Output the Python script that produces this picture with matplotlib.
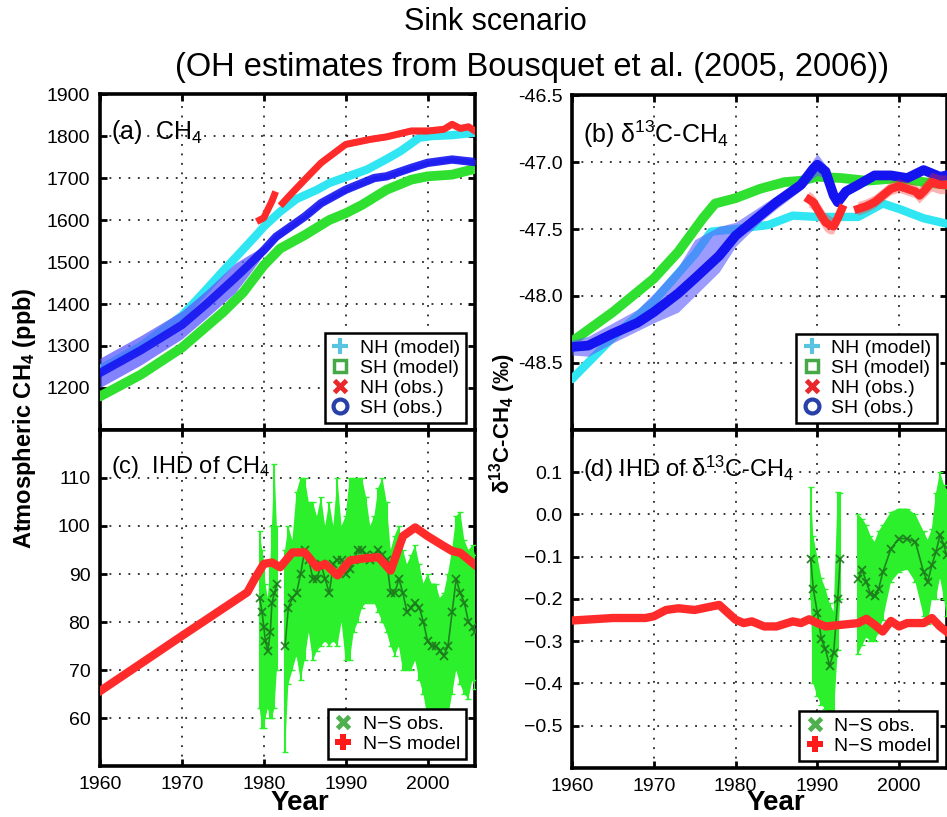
import numpy as np
import matplotlib
matplotlib.use('Agg')
import matplotlib.pyplot as plt
from matplotlib.lines import Line2D

plt.rcParams['font.family'] = ['Liberation Sans', 'DejaVu Sans']
plt.rcParams['mathtext.fontset'] = 'custom'
plt.rcParams['mathtext.rm'] = 'Liberation Sans'
plt.rcParams['mathtext.bf'] = 'Liberation Sans:bold'
plt.rcParams['mathtext.default'] = 'regular'

nan = np.nan

# ---------------- Panel (a): CH4 (ppb) ----------------
a_nhm_year = [1960, 1965, 1970, 1973, 1975, 1977, 1979, 1980, 1982, 1984, 1986.5, 1988, 1990,
              1992.6, 1995, 1996.7, 1999, 2000.6, 2003, 2005.8]
a_nhm_val = [1245, 1300, 1372, 1435, 1478, 1520, 1562, 1584, 1620, 1650, 1672, 1688, 1702,
             1720, 1745, 1764, 1796, 1800, 1802, 1808]

a_shm_year = [1960, 1965, 1970, 1975, 1977.5, 1980, 1982, 1985, 1988, 1990, 1992, 1995, 1998,
              2000, 2003, 2005.8]
a_shm_val = [1180, 1232, 1296, 1380, 1428, 1492, 1532, 1564, 1600, 1616, 1636, 1672, 1696,
             1704, 1708, 1722]

a_nho_year = [1979.5, 1980, 1980.5, 1981, 1981.3, 1981.8, 1982.3, 1983, 1985, 1987, 1990, 1993,
              1995, 1998, 2000, 2002, 2003, 2004, 2005, 2005.8]
a_nho_val = [1600, 1605, 1625, 1645, 1660, nan, 1640, 1655, 1696, 1736, 1780, 1792,
             1798, 1812, 1812, 1816, 1828, 1818, 1822, 1812]

a_sho_year = [1960, 1965, 1970, 1973, 1976.5, 1978, 1980, 1981.5, 1985, 1987, 1990, 1992,
              1993.5, 1995, 1998, 2000, 2003, 2005.8]
a_sho_val = [1236, 1290, 1350, 1400, 1462, 1490, 1528, 1560, 1608, 1640, 1672, 1688,
             1700, 1704, 1724, 1736, 1744, 1738]
a_sho_err = [35, 35, 33, 33, 35, 25, 10, 8, 6, 6, 6, 6, 6, 6, 6, 6, 6, 6]

# ---------------- Panel (b): d13C-CH4 (permil) ----------------
b_nhm_year = [1960, 1965, 1970, 1975, 1977, 1980, 1984, 1987, 1990, 1995, 1998, 2000, 2003, 2005.8]
b_nhm_val = [-48.62, -48.31, -48.04, -47.69, -47.52, -47.50, -47.47, -47.40, -47.41, -47.41,
             -47.31, -47.35, -47.42, -47.46]

b_shm_year = [1960, 1965, 1970, 1973, 1976, 1977.5, 1980, 1983, 1986, 1988, 1990, 1993, 1996,
              2000, 2003, 2005.8]
b_shm_val = [-48.34, -48.12, -47.87, -47.67, -47.42, -47.31, -47.27, -47.20, -47.15, -47.14,
             -47.11, -47.12, -47.14, -47.12, -47.15, -47.17]

b_nho_year = [1989, 1989.5, 1990, 1990.5, 1991, 1991.5, 1992, 1992.5, 1993, 1994, 1995, 1996,
              1997, 1998, 1999, 2000, 2001, 2002, 2002.5, 2003, 2004, 2005, 2005.8]
b_nho_val = [-47.28, -47.30, -47.35, -47.40, -47.45, -47.47, -47.48, -47.42, -47.35, nan,
             -47.35, -47.33, -47.30, -47.25, -47.20, -47.18, -47.20, -47.22, -47.25, -47.22,
             -47.15, -47.17, -47.17]
b_nho_err = [0.06, 0.06, 0.07, 0.07, 0.07, 0.07, 0.06, 0.06, 0.05, nan,
             0.05, 0.05, 0.05, 0.05, 0.05, 0.05, 0.05, 0.05, 0.06, 0.06, 0.07, 0.07, 0.07]

b_sho_year = [1960, 1962, 1965, 1968, 1970, 1973, 1975, 1978, 1980, 1983, 1985, 1988, 1989.5,
              1990, 1991, 1992, 1992.5, 1993.5, 1995, 1997, 1999, 2001, 2003, 2005, 2005.8]
b_sho_val = [-48.38, -48.37, -48.28, -48.20, -48.12, -47.98, -47.87, -47.70, -47.55, -47.40,
             -47.30, -47.17, -47.05, -47.02, -47.07, -47.25, -47.30, -47.22, -47.17, -47.10,
             -47.10, -47.12, -47.06, -47.11, -47.10]
b_sho_hi = [-48.33, -48.30, -48.20, -48.10, -47.98, -47.78, -47.58, -47.48, -47.45, -47.33,
            -47.25, -47.13, -46.98, -46.94, -47.02, -47.22, -47.27, -47.19, -47.14, -47.07,
            -47.07, -47.09, -47.03, -47.08, -47.07]
b_sho_lo = [-48.44, -48.45, -48.35, -48.26, -48.20, -48.12, -48.00, -47.82, -47.63, -47.45,
            -47.35, -47.21, -47.12, -47.10, -47.12, -47.28, -47.33, -47.25, -47.20, -47.13,
            -47.13, -47.15, -47.09, -47.14, -47.13]

# ---------------- Panel (c): IHD of CH4 (ppb) ----------------
c_mod_year = [1960, 1970, 1978, 1979, 1980, 1981, 1982, 1983.5, 1985, 1986.5, 1987.5, 1989,
              1990.5, 1992, 1994, 1995.5, 1997, 1998.5, 2000, 2002, 2003, 2004, 2005.8]
c_mod_val = [65.6, 77.1, 86.2, 89.3, 92.1, 92.4, 91.4, 94.5, 94.5, 91.4, 92.1, 89.7,
             92.8, 93.2, 93.5, 90.7, 97.9, 99.7, 97.9, 95.8, 94.8, 94.4, 91.9]

c_obs_year = [1979.5, 1979.8, 1980, 1980.2, 1980.5, 1980.8, 1981, 1981.3, 1981.6, 1982.0,
              1982.6, 1983, 1983.5, 1984, 1984.5, 1985, 1985.5, 1986, 1986.5, 1987, 1987.5,
              1988, 1988.5, 1989, 1989.5, 1990, 1990.5, 1991, 1991.5, 1992, 1992.5, 1993,
              1993.5, 1994, 1994.5, 1995, 1995.5, 1996, 1996.5, 1997, 1997.5, 1998, 1998.5,
              1999, 1999.5, 2000, 2000.5, 2001, 2001.5, 2002, 2002.5, 2003, 2003.5, 2004,
              2004.5, 2005, 2005.5, 2005.8]
c_obs_val = [85, 82, 79, 76, 74, 78, 84, 86, 88, nan,
             75, 83, 85, 86, 90, 95, 93, 89, 89, 92, 89,
             86, 92, 93, 93, 90, 91, 93, 95, 95, 94, 93,
             94, 95, 94, 93, 86, 86, 89, 86, 82, 83, 84,
             83, 80, 76, 75, 75, 74, 73, 75, 82, 89, 86,
             84, 80, 79, 78]
c_obs_hi = [99, 95, 93, 88, 85, 92, 100, 113, 100, nan,
            95, 100, 97, 107, 110, 110, 105, 105, 102, 106, 100,
            105, 100, 110, 100, 102, 110, 110, 110, 110, 106, 100,
            102, 108, 110, 105, 95, 98, 100, 95, 92, 94, 96,
            92, 88, 90, 88, 88, 85, 86, 90, 95, 102, 103,
            97, 95, 96, 94]
c_obs_lo = [62, 58, 58, 60, 62, 60, 60, 62, 70, nan,
            53, 67, 70, 73, 68, 72, 78, 72, 74, 75, 76,
            75, 76, 75, 80, 72, 72, 78, 80, 83, 84, 84,
            84, 82, 80, 78, 75, 73, 75, 70, 70, 70, 72,
            68, 65, 60, 60, 58, 57, 57, 60, 65, 70, 67,
            65, 64, 68, 66]

# ---------------- Panel (d): IHD of d13C-CH4 (permil) ----------------
d_mod_year = [1960, 1965, 1969, 1970, 1971.5, 1973, 1975, 1977, 1978, 1980, 1981, 1982, 1983.5,
              1985, 1987, 1988, 1989, 1990, 1991, 1993, 1995, 1996, 1997, 1998, 1999, 2000,
              2001, 2003, 2004, 2005, 2005.8]
d_mod_val = [-0.251, -0.245, -0.245, -0.241, -0.226, -0.222, -0.226, -0.218, -0.214, -0.249,
             -0.257, -0.253, -0.265, -0.265, -0.253, -0.257, -0.248, -0.257, -0.265, -0.261,
             -0.257, -0.247, -0.261, -0.277, -0.252, -0.265, -0.257, -0.257, -0.245, -0.265,
             -0.277]

d_obs_year = [1989.2, 1989.5, 1990, 1990.5, 1991, 1991.5, 1992, 1992.5, 1992.8, 1994,
              1995, 1995.5, 1996, 1996.5, 1997, 1997.5, 1998, 1999, 2000, 2001, 2002, 2003,
              2003.5, 2004, 2004.5, 2005, 2005.5, 2005.8]
d_obs_val = [-0.105, -0.176, -0.232, -0.295, -0.319, -0.358, -0.327, -0.200, -0.105, nan,
             -0.152, -0.132, -0.160, -0.188, -0.192, -0.176, -0.137, -0.081, -0.057, -0.057,
             -0.065, -0.137, -0.160, -0.120, -0.089, -0.049, -0.073, -0.097]
d_obs_hi = [0.066, -0.05, -0.10, -0.15, -0.176, -0.21, -0.23, 0.054, 0.05, nan,
            0.0, -0.01, -0.025, -0.05, -0.065, -0.04, -0.025, 0.006, 0.014, 0.014,
            0.0, -0.04, -0.06, -0.035, 0.05, 0.10, 0.07, 0.06]
d_obs_lo = [-0.20, -0.40, -0.43, -0.45, -0.46, -0.51, -0.48, -0.32, -0.20, nan,
            -0.33, -0.31, -0.29, -0.30, -0.30, -0.28, -0.25, -0.16, -0.137, -0.13,
            -0.16, -0.24, -0.26, -0.20, -0.20, -0.15, -0.20, -0.24]

XLIM = (1960, 2005.8)
xticks = [1960, 1970, 1980, 1990, 2000]

C_CYAN = '#30e6f2'
C_GREEN = '#30e030'
C_RED = '#ff2a2a'
C_BLUE = '#1414f0'
C_BAND = '#5a5aff'
C_OBSG = '#2cf02c'
C_OBSX = '#1d7a1d'

fig = plt.figure(figsize=(9.47, 8.17), dpi=100)
ax_a = fig.add_axes([0.1056, 0.4737, 0.3960, 0.4112])
ax_c = fig.add_axes([0.1056, 0.0624, 0.3960, 0.4113])
ax_b = fig.add_axes([0.6040, 0.4737, 0.3955, 0.4100])
ax_d = fig.add_axes([0.6040, 0.0600, 0.3955, 0.4137])


def style(ax, bottom_labels):
    ax.set_xlim(*XLIM)
    ax.set_xticks(xticks)
    ax.grid(True, linestyle=(0, (1.2, 5)), color='k', linewidth=1.1)
    ax.tick_params(direction='in', length=5, width=2, top=True, right=True,
                   labelsize=14, pad=7, labelbottom=bottom_labels)
    for s in ax.spines.values():
        s.set_linewidth(2.6)
    ax.set_axisbelow(True)


# ---- (a)
ax = ax_a
ax.plot(a_shm_year, a_shm_val, color=C_GREEN, lw=7, solid_capstyle='round', zorder=3)
ax.plot(a_nhm_year, a_nhm_val, color=C_CYAN, lw=6, solid_capstyle='round', zorder=3)
a_nho = np.array(a_nho_val)
ax.fill_between(a_nho_year, a_nho - 8, a_nho + 8, color=C_RED, alpha=0.45, lw=0, zorder=3)
ax.plot(a_nho_year, a_nho_val, color=C_RED, lw=5, zorder=4)
a_sho = np.array(a_sho_val)
a_err = np.array(a_sho_err)
ax.fill_between(a_sho_year, a_sho - a_err, a_sho + a_err, color=C_BAND, alpha=0.75, lw=0, zorder=5)
ax.plot(a_sho_year, a_sho_val, color=C_BLUE, lw=6, alpha=0.9, zorder=6)
ax.set_ylim(1100, 1900)
ax.set_yticks([1200, 1300, 1400, 1500, 1600, 1700, 1800, 1900])
style(ax, False)
ax.text(0.03, 0.93, '(a)  CH$_4$', transform=ax.transAxes, fontsize=18, va='top', ha='left')

# ---- (b)
ax = ax_b
ax.plot(b_shm_year, b_shm_val, color=C_GREEN, lw=7, solid_capstyle='round', zorder=3)
ax.plot(b_nhm_year, b_nhm_val, color=C_CYAN, lw=6, solid_capstyle='round', zorder=3)
ax.fill_between(b_sho_year, b_sho_lo, b_sho_hi, color=C_BAND, alpha=0.6, lw=0, zorder=4)
ax.plot(b_sho_year, b_sho_val, color=C_BLUE, lw=7, zorder=5)
b_nho = np.array(b_nho_val)
b_ne = np.array(b_nho_err)
ax.fill_between(b_nho_year, b_nho - b_ne, b_nho + b_ne, color=C_RED, alpha=0.35, lw=0, zorder=6)
ax.plot(b_nho_year, b_nho_val, color=C_RED, lw=6, zorder=7)
ax.set_ylim(-49.0, -46.5)
bt = [-48.5, -48.0, -47.5, -47.0, -46.5]
ax.set_yticks(bt)
ax.set_yticklabels(['%.1f' % v for v in bt])
style(ax, False)
ax.text(0.03, 0.93, '(b) δ$^{13}$C-CH$_4$', transform=ax.transAxes, fontsize=18, va='top', ha='left')

# ---- (c)
ax = ax_c
c_v = np.array(c_obs_val)
c_h = np.array(c_obs_hi)
c_l = np.array(c_obs_lo)
ax.fill_between(c_obs_year, c_l, c_h, color=C_OBSG, lw=0, zorder=3)
ax.errorbar(c_obs_year, c_v, yerr=[c_v - c_l, c_h - c_v], fmt='none', ecolor=C_OBSG,
            elinewidth=1.5, capsize=2, zorder=3)
ax.plot(c_obs_year, c_obs_val, '-x', color=C_OBSX, lw=1.2, ms=6, mew=1.3, alpha=0.9, zorder=4)
ax.plot(c_mod_year, c_mod_val, color=C_RED, lw=6, zorder=5)
ax.set_ylim(50, 120)
ax.set_yticks([60, 70, 80, 90, 100, 110])
style(ax, True)
ax.text(0.03, 0.93, '(c)  IHD of CH$_4$', transform=ax.transAxes, fontsize=17, va='top', ha='left')

# ---- (d)
ax = ax_d
d_v = np.array(d_obs_val)
d_h = np.array(d_obs_hi)
d_l = np.array(d_obs_lo)
ax.fill_between(d_obs_year, d_l, d_h, color=C_OBSG, lw=0, zorder=3)
ax.errorbar(d_obs_year, d_v, yerr=[d_v - d_l, d_h - d_v], fmt='none', ecolor=C_OBSG,
            elinewidth=1.5, capsize=2, zorder=3)
ax.plot(d_obs_year, d_obs_val, '-x', color=C_OBSX, lw=1.2, ms=6, mew=1.3, alpha=0.9, zorder=4)
ax.plot(d_mod_year, d_mod_val, color=C_RED, lw=6, zorder=5)
ax.set_ylim(-0.6, 0.2)
dt = [-0.5, -0.4, -0.3, -0.2, -0.1, 0.0, 0.1]
ax.set_yticks(dt)
ax.set_yticklabels([('\u2212%.1f' % -v) if v < 0 else '%.1f' % v for v in dt])
style(ax, True)
ax.text(0.03, 0.93, '(d) IHD of δ$^{13}$C-CH$_4$', transform=ax.transAxes, fontsize=17,
        va='top', ha='left')

# ---- legends
h_top = [
    Line2D([], [], color='#58c4e0', marker='+', mew=3, ms=11, ls='none', label='NH (model)'),
    Line2D([], [], color='#46a846', marker='s', mfc='none', mew=2.5, ms=9, ls='none', label='SH (model)'),
    Line2D([], [], color='#e8282b', marker='x', mew=3.5, ms=9, ls='none', label='NH (obs.)'),
    Line2D([], [], color='#2840a8', marker='o', mfc='none', mew=3, ms=10, ls='none', label='SH (obs.)'),
]
h_bot = [
    Line2D([], [], color='#50b050', marker='x', mew=3.5, ms=9, ls='none', label='N\u2212S obs.'),
    Line2D([], [], color='#ff1a1a', marker='P', mew=0, ms=12, ls='none', label='N\u2212S model'),
]
for ax, hs in ((ax_a, h_top), (ax_b, h_top), (ax_c, h_bot), (ax_d, h_bot)):
    lg = ax.legend(handles=hs, loc='lower right', bbox_to_anchor=(0.975, 0.022), fontsize=14,
                   frameon=True, fancybox=False, framealpha=1, edgecolor='k',
                   handlelength=1.0, handletextpad=0.5, borderpad=0.3, labelspacing=0.12,
                   borderaxespad=0)
    lg.get_frame().set_linewidth(1.8)
    lg.set_zorder(10)

# ---- figure-level labels
fig.text(0.026, 0.488, 'Atmospheric CH$_4$ (ppb)', rotation=90, fontsize=17,
         fontweight='bold', ha='center', va='center')
fig.text(0.531, 0.481, 'δ$^{13}$C-CH$_4$ (‰)', rotation=90, fontsize=16,
         fontweight='bold', ha='center', va='center')
fig.text(300 / 947, 0.008, 'Year', fontsize=20, fontweight='bold', ha='center', va='baseline')
fig.text(776 / 947, 0.008, 'Year', fontsize=20, fontweight='bold', ha='center', va='baseline')
fig.text(0.523, 0.973, 'Sink scenario', fontsize=22, ha='center', va='center')
fig.text(0.562, 0.917, '(OH estimates from Bousquet et al. (2005, 2006))', fontsize=23.5,
         ha='center', va='center')

fig.savefig('out.png', dpi=100)
